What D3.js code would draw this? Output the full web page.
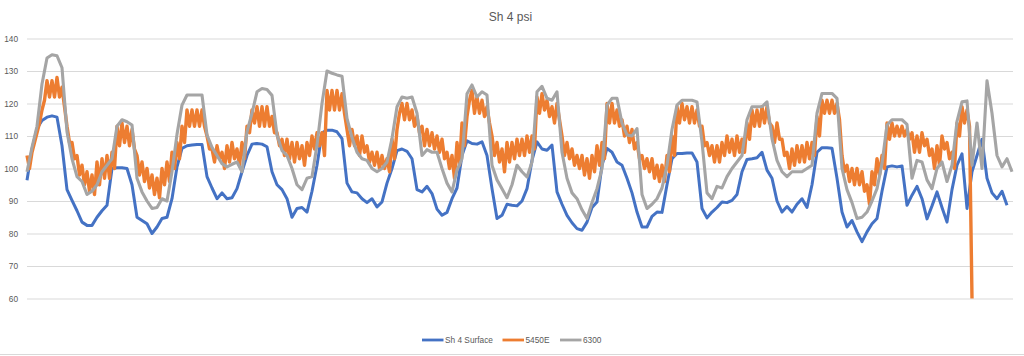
<!DOCTYPE html>
<html>
<head>
<meta charset="utf-8">
<script src="https://cdn.jsdelivr.net/npm/d3@7"></script>
<style>
  html, body { margin: 0; padding: 0; background: #fff; }
  svg { display: block; }
  text { font-family: "Liberation Sans", Arial, sans-serif; fill: #595959; }
</style>
</head>
<body>
<svg id="chart" width="1024" height="356"></svg>
<script>
// ---- Data ----
const title = "Sh 4 psi";
const seriesNames = ["Sh 4 Surface", "5450E", "6300"];
const yTicks = [60, 70, 80, 90, 100, 110, 120, 130, 140];
// sampling interval of each series in time units
const surfaceStep = 2;
const e5450Step = 1;
const w6300Step = 2;

const surface = [
  96.4,106,112.3,114.8,115.8,116.2,115.8,107,93.5,90.2,
  87,83.5,82.5,82.5,85,87,88.7,100,100.2,100.2,
  100,95,85,84,83,80,82,84.6,85,90.7,
  100.5,106.2,107,107.2,107.4,107.4,97.5,94,90.7,92.5,
  90.7,91,93.8,99,104,107.5,107.7,107.5,106.7,99,
  95,93.5,90.7,85,87.7,88,86.6,93,101,111,
  111.8,111.8,111.3,109.2,95.5,92.8,92.5,90.7,89.5,90.7,
  88.2,89.7,95.5,100,105.5,106,105.3,103,93.5,92.8,
  94.5,92.3,87.5,85.6,86.5,90.7,94,104,108.5,107.7,
  107.5,108.2,104,93.8,84.6,85.6,89,88.7,88.5,90,
  93.8,102.5,108.2,106,105.6,107.2,92.8,89,85.6,83.3,
  81.5,81,83.5,88,89.7,101,106.2,105,102,101,
  97,92.5,86.6,82,82,85.3,86.6,86.5,95,103,
  104.6,104.6,104.8,104.8,102,87.7,84.8,86.6,88,89.7,
  89.5,90.2,92,99,102.8,103,103.3,105,99.5,97,
  90,86.6,88.3,86.6,89,90.7,88,95,105,106.4,
  106.4,106.2,97,86.6,82,84,80.5,77.5,80.5,83,
  84.6,93,100.5,100.8,100.5,100.8,88.7,91.8,94.5,90.7,
  84.5,88.5,92.8,88,83.5,93.5,101,104.5,87.7,99,
  104,109,97,92.5,90.7,93,88.7
];

const e5450 = [
  104,100, 105,108, 111,114, 118,121, 127,122, 127,122, 128,122, 125,119, 113,108, 108,103,
  104,98, 101,95, 99,93, 98,92, 102,95, 103,97, 104,97, 105,100, 113,107, 114,108,
  113,107, 112,106, 104,98, 102,96, 100,94, 98,92, 97,91, 100,95, 102,96, 105,100,
  108,103, 113,108, 118,113, 118,113, 118,113, 118,113, 110,106, 106,102, 107,103, 105,100,
  107,102, 108,103, 106,101, 108,103, 113,111, 118,114, 119,113, 119,113, 119,113, 116,111,
  111,107, 109,104, 109,103, 108,102, 108,103, 107,101, 108,104, 110,106, 111,107, 111,104,
  124,118, 124,118, 124,118, 123,117, 112,107, 112,107, 110,104, 110,105, 107,102, 105,101,
  105,100, 104,100, 103,99, 109,103, 112,117, 120,115, 120,115, 118,113, 116,111, 113,107,
  112,107, 111,106, 110,105, 109,103, 105,100, 104,97, 108,101, 114,107, 116,121, 124,117,
  122,117, 121,116, 119,114, 110,104, 108,102, 106,99, 108,102, 108,103, 109,104, 109,104,
  110,105, 110,106, 122,117, 123,118, 121,116, 119,114, 120,115, 110,104, 108,103, 106,101,
  104,100, 104,98, 103,97, 104,99, 107,101, 108,103, 120,114, 120,114, 118,113, 115,110,
  113,108, 112,106, 108,103, 104,100, 103,99, 103,97, 101,96, 101,96, 104,99, 110,104,
  119,114, 120,115, 119,114, 119,114, 118,113, 113,107, 108,104, 107,102, 107,102, 108,104,
  110,105, 109,104, 110,105, 109,105, 114,109, 118,113, 118,113, 119,114, 119,114, 113,108,
  114,109, 109,104, 105,100, 106,101, 107,102, 107,102, 108,103, 108,104, 116,110, 121,117,
  121,117, 121,117, 120,115, 104,99, 101,96, 100,95, 100,95, 99,93, 95,89, 99,95,
  103,98, 104,100, 114,109, 114,110, 113,110, 113,110, 112,109, 111,105, 110,105, 111,107,
  109,104, 106,100, 107,101, 110,106, 108,103, 105,100, 114,110, 119,114, 118,113,
  60
];

const w6300 = [
  99,106.5,113,126,134,135,134.7,131,111.3,103,
  97.5,96,92,93,95,99,101,103,113,115,
  114.4,113.4,97,92.8,90,87.7,88,90.7,90,99,
  110.5,119.5,122.6,122.6,122.6,122.6,110.3,106.5,104,101.5,
  100.5,101.3,102,99,111.3,117,123.6,124.6,124.3,122.5,
  110.3,105.5,104,100,95,93.5,97,97.5,107.2,120,
  130,129.3,128.8,128.4,115.4,109.5,105,103,102.5,100,
  99,100,102,109.2,119,122,121.6,122,117,104,
  105.8,105,105,100,95.5,92.8,99.5,103,123,125.7,
  122,123.6,122.6,101,96.5,93.8,91,95,101,99,
  97.4,102,123.6,125.3,121.6,121,123.6,105,97,92.5,
  90.7,87.3,84.6,89.5,93.8,100,119.5,121.6,121.6,114,
  110.3,110,112.3,92,87.7,89,90.7,94,101,112,
  119.5,121,121,121,120.5,108.2,92.5,90.7,94.5,94,
  97.5,100,102,104,115,119,119,119,120.5,109.2,
  102.5,99,97.5,99,99,99,100,101,117,123.1,
  123.1,123.1,121.6,100,93.5,89.5,84.6,85,86.6,90,
  93.8,101.5,113.4,115,115,115,113.6,97,102.5,102,
  96.5,93.8,100,102,96,101,114.5,120.5,120.8,101,
  114,100,127,117,104,100.5,103,99
];

// ---- Layout ----
const svg = d3.select("#chart");
const W = 1024, H = 356;
const plot = { left: 27, right: 1012, top: 38.5, bottom: 298.5 };
const colors = ["#4472C4", "#ED7D31", "#A5A5A5"];
const widths = [3, 3.4, 3.1];

const tMax = (w6300.length - 1) * w6300Step;
const x = d3.scaleLinear().domain([0, tMax]).range([plot.left, plot.right]);
const y = d3.scaleLinear().domain([60, 140]).range([plot.bottom, plot.top]);

// chart border bottom
svg.append("line").attr("x1", 0).attr("x2", W).attr("y1", 354.5).attr("y2", 354.5)
  .attr("stroke", "#d9d9d9").attr("stroke-width", 1);

// title
svg.append("text").attr("x", 510.5).attr("y", 21).attr("text-anchor", "middle")
  .style("font-size", "12px").text(title);

// gridlines
const grid = svg.append("g").attr("transform", `translate(${plot.left},0)`)
  .call(d3.axisLeft(y).tickValues(yTicks).tickSize(-(1013 - plot.left)).tickFormat(""));
grid.select(".domain").remove();
grid.selectAll("line").attr("stroke", "#d9d9d9").attr("stroke-width", 1);

// y axis labels
const yAxis = svg.append("g").attr("transform", `translate(${plot.left},0)`)
  .call(d3.axisLeft(y).tickValues(yTicks).tickSize(0).tickPadding(9));
yAxis.select(".domain").remove();
yAxis.selectAll("text").style("font-size", "8.3px").style("font-family", "Liberation Sans, Arial, sans-serif").attr("fill", "#595959");

// series
const seriesData = [
  { values: surface, step: surfaceStep },
  { values: e5450, step: e5450Step },
  { values: w6300, step: w6300Step }
];
const line = d3.line().x(d => x(d.t)).y(d => y(d.v)).curve(d3.curveLinear);
seriesData.forEach((s, i) => {
  const pts = s.values.map((v, j) => ({ t: j * s.step, v }));
  svg.append("path").datum(pts)
    .attr("fill", "none")
    .attr("stroke", colors[i])
    .attr("stroke-width", widths[i])
    .attr("stroke-linejoin", "round")
    .attr("d", line);
});

// legend
const legendItems = [
  { x: 422, w: 21.5 },
  { x: 502.5, w: 21.5 },
  { x: 560, w: 21.5 }
];
const lg = svg.append("g");
seriesNames.forEach((name, i) => {
  const it = legendItems[i];
  lg.append("line").attr("x1", it.x).attr("x2", it.x + it.w).attr("y1", 340).attr("y2", 340)
    .attr("stroke", colors[i]).attr("stroke-width", 2.8);
  lg.append("text").attr("x", it.x + it.w + 1.5).attr("y", 343)
    .style("font-size", "8.3px").text(name);
});
</script>
</body>
</html>
